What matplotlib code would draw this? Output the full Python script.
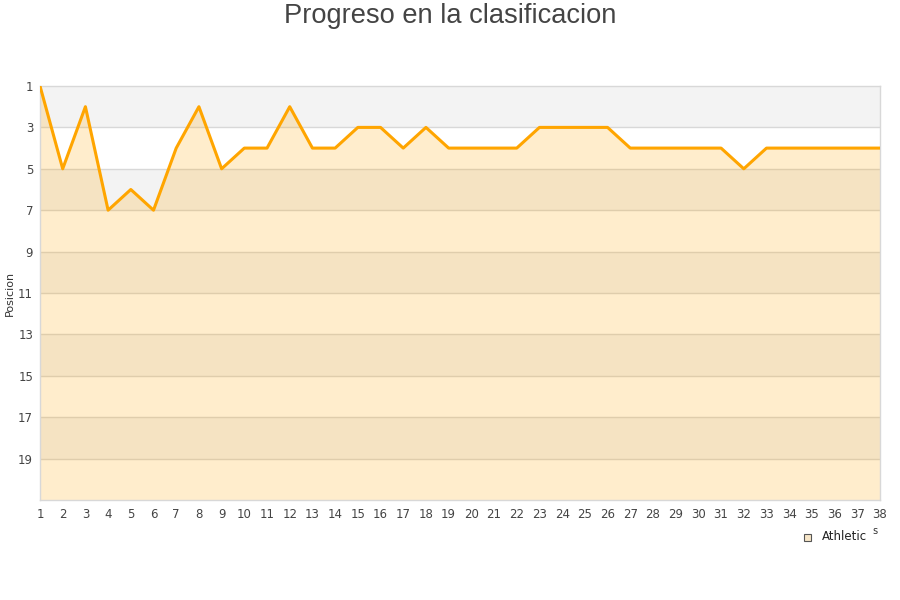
import matplotlib
matplotlib.use("Agg")
import matplotlib.pyplot as plt
from matplotlib.patches import Rectangle

jornadas = list(range(1, 39))
posicion = [1, 5, 2, 7, 6, 7, 4, 2, 5, 4, 4, 2, 4, 4, 3, 3, 4, 3, 4, 4,
            4, 4, 3, 3, 3, 3, 4, 4, 4, 4, 4, 5, 4, 4, 4, 4, 4, 4]
yticks = list(range(1, 20, 2))
team = "Athletic"
title = "Progreso en la clasificacion"
ylabel = "Posicion"

plt.rcParams['font.family'] = ['DejaVu Sans']
fig = plt.figure(figsize=(9, 6), dpi=100)
ax = fig.add_axes([40/900, 100/600, 840/900, 414/600])

ymin, ymax = 1, 21
xmin, xmax = jornadas[0], jornadas[-1]
# background bands
for i, lo in enumerate(range(ymin, ymax, 2)):
    col = '#f3f3f3' if i % 2 == 0 else '#ffffff'
    ax.axhspan(lo, lo + 2, color=col, zorder=0, lw=0)
for y in yticks[1:]:
    ax.axhline(y, color='#d8d8d8', lw=1, zorder=1)

ax.fill_between(jornadas, posicion, ymax, color='#FFA500', alpha=0.2, lw=0, zorder=2)
ax.plot(jornadas, posicion, color='#FFA500', lw=2.2, zorder=3)

ax.set_xlim(xmin, xmax)
ax.set_ylim(ymax, ymin)
ax.set_yticks(yticks)
ax.set_xticks(jornadas)
ax.tick_params(axis='both', length=0, labelsize=8.5, colors='#444444')
ax.tick_params(axis='x', pad=6)
ax.tick_params(axis='y', pad=5)
for s in ax.spines.values():
    s.set_color('#d8d8d8')
    s.set_linewidth(1)
ax.set_ylabel(ylabel, fontsize=8, color='#333333')
ax.yaxis.set_label_coords(-25/840, 0.5)

fig.text(0.5, 1 - 16/600, title, ha='center', va='center', fontsize=19.6,
         color='#444444', family=['Liberation Sans', 'DejaVu Sans'])

# legend
fig.patches.append(Rectangle((804/900, 1 - 541/600), 7/900, 7/600, transform=fig.transFigure,
                             facecolor='#f7e6c8', edgecolor='#555555', lw=0.8))
fig.text(822/900, 1 - 537/600, team, ha='left', va='center', fontsize=8.5, color='#222222')
fig.text(875/900, 1 - 531/600, 's', ha='center', va='center', fontsize=7, color='#333333')

fig.savefig('out.png', dpi=100, facecolor='white')
